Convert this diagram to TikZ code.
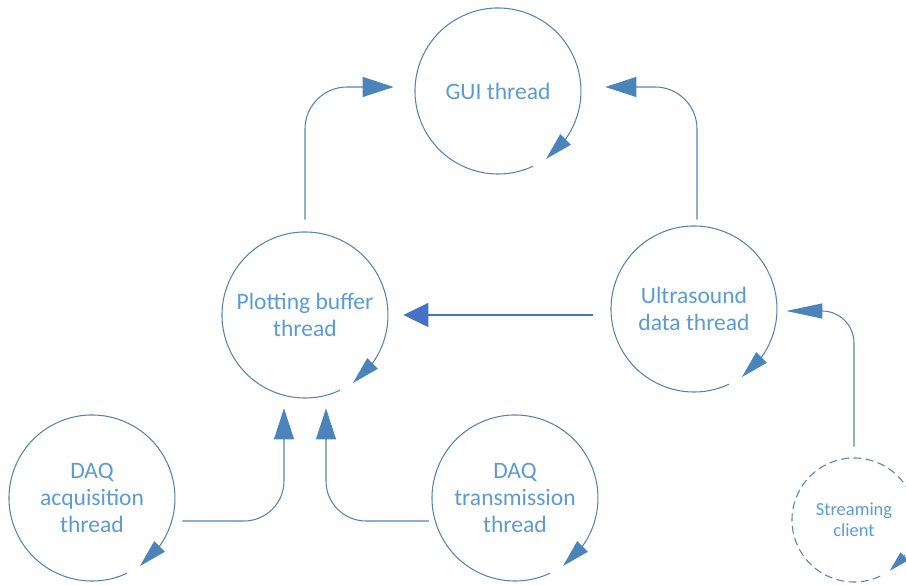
\documentclass[tikz,border=0pt]{standalone}
\usepackage{fontspec}
\setmainfont{Carlito}
\usetikzlibrary{arrows.meta,calc}
\definecolor{txtc}{HTML}{5B9BD5}
\definecolor{linec}{HTML}{5682B0}
\definecolor{tipc}{HTML}{4A84BA}
\definecolor{hblue}{HTML}{4472C4}
\tikzset{
 thr/.style={circle, minimum size=3.32cm, inner sep=0pt, text=txtc, align=center, font=\fontsize{13.4}{15.4}\selectfont},
 smallthr/.style={circle, minimum size=2.48cm, inner sep=0pt, text=txtc, align=center, font=\fontsize{10.5}{11.9}\selectfont},
 circ/.style={draw=linec, line width=0.6pt},
 tipfill/.style={fill=tipc},
 conn/.style={draw=linec, line width=0.6pt, rounded corners=0.84cm},
 bigtip/.style={-{Triangle[length=0.62cm,width=0.4cm,color=tipc]}},
}
\newcommand\thrloop[4]{%
  \draw[circ,#4] ($(#1.center)+(-65:#2)$) arc[start angle=-65, end angle=-396, radius=#2];
  \fill[tipfill] ($(#1.center)+#3*(0.96cm,-1.36cm)$) -- ($(#1.center)+#3*(1.456cm,-1.076cm)$) -- ($(#1.center)+#3*(1.244cm,-0.864cm)$) -- cycle;
}
\begin{document}
\begin{tikzpicture}
\useasboundingbox (0,0) rectangle (18.12,11.7);
\clip (0,0) rectangle (18.12,11.7);
\node[thr] (gui) at (9.96,9.88) {GUI thread};
\node[thr] (plot) at (6.10,5.40) {Plotting buffer\\thread};
\node[thr] (ultra) at (13.88,5.52) {Ultrasound\\data thread};
\node[thr] (acq) at (1.84,1.74) {DAQ\\acquisition\\thread};
\node[thr] (trans) at (10.30,1.74) {DAQ\\transmission\\thread};
\node[smallthr] (stream) at (17.08,1.30) {Streaming\\client};

\thrloop{gui}{1.66cm}{1}{}
\thrloop{plot}{1.66cm}{1}{}
\thrloop{ultra}{1.66cm}{1}{}
\thrloop{acq}{1.66cm}{1}{}
\thrloop{trans}{1.66cm}{1}{}
\thrloop{stream}{1.24cm}{0.747}{dash pattern=on 4.5pt off 2.5pt}

\draw[conn, bigtip] ([yshift=0.24cm]plot.north) |- ([shift={(-0.42cm,0.08cm)}]gui.west);
\draw[conn, bigtip] ([shift={(0.06cm,0.12cm)}]ultra.north) |- ([shift={(0.48cm,0.08cm)}]gui.east);
\draw[draw=hblue, line width=0.7pt, -{Triangle[length=0.5cm,width=0.48cm,color=hblue]}] ($(ultra.west |- plot.east)+(-0.36,0)$) -- ([xshift=0.3cm]plot.east);
\draw[conn, rounded corners=0.8cm, bigtip] ([shift={(0.14cm,-0.46cm)}]acq.east) -| ([shift={(-0.42cm,-0.2cm)}]plot.south);
\draw[conn, rounded corners=0.8cm, bigtip] ([shift={(-0.05cm,-0.46cm)}]trans.west) -| ([shift={(0.42cm,-0.2cm)}]plot.south);
\draw[conn, rounded corners=0.64cm, -{Triangle[length=0.72cm,width=0.3cm,color=tipc]}] ([yshift=0.22cm]stream.north) |- ([shift={(0.18cm,-0.04cm)}]ultra.east);
\end{tikzpicture}
\end{document}
